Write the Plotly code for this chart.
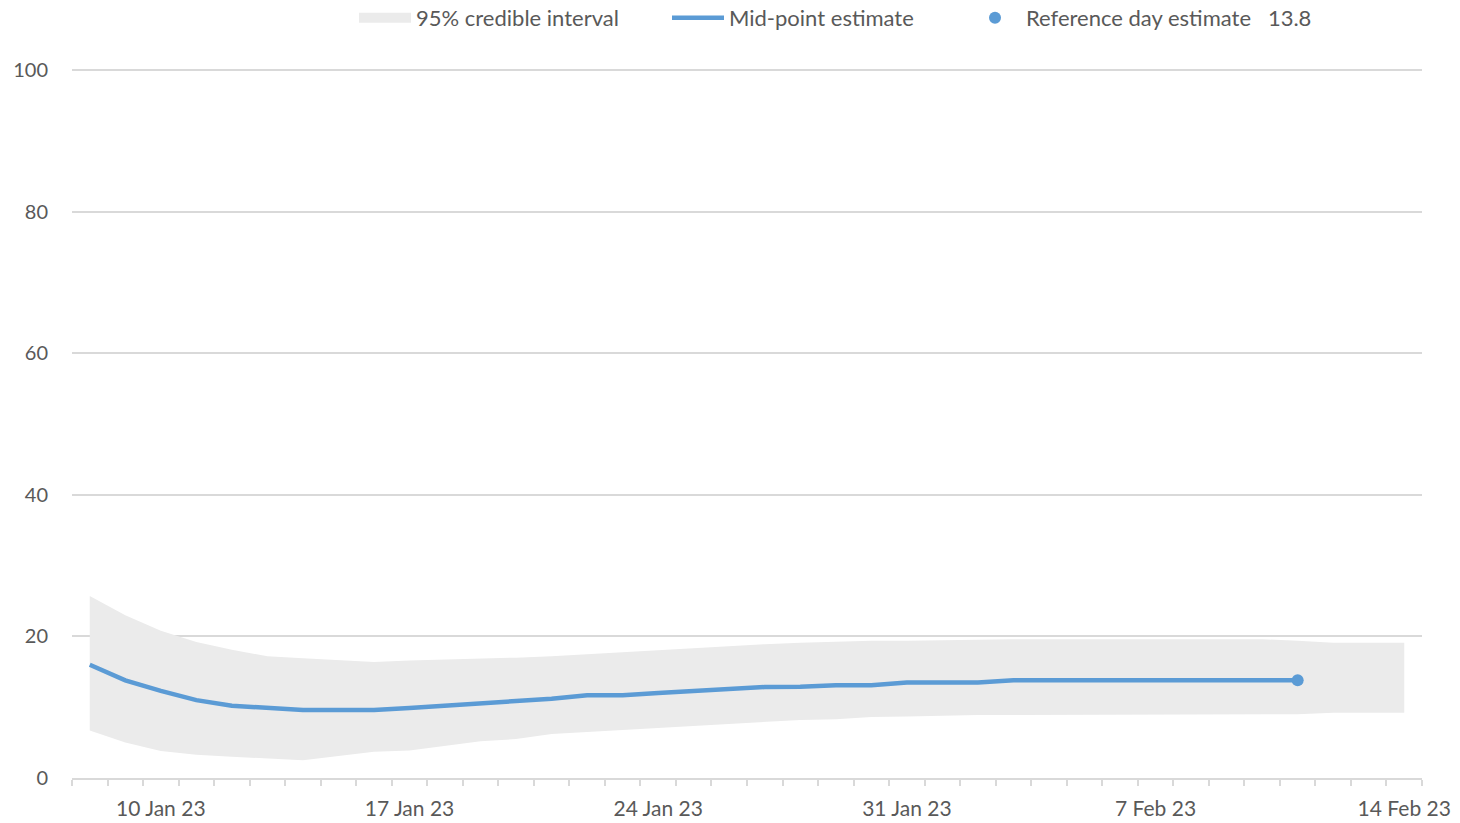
import plotly.graph_objects as go
import pandas as pd

dates = pd.date_range("2023-01-08", "2023-02-14", freq="D")
upper = [25.7, 23.0, 20.8, 19.2, 18.1, 17.2, 16.9, 16.7, 16.4, 16.6,
         16.7, 16.8, 17.0, 17.2, 17.5, 17.8, 18.0, 18.3, 18.6, 18.9,
         19.1, 19.3, 19.4, 19.4, 19.5, 19.6, 19.6, 19.6, 19.6, 19.6,
         19.6, 19.6, 19.6, 19.6, 19.4, 19.1, 19.1, 19.1]
lower = [6.7, 5.0, 3.8, 3.3, 3.0, 2.7, 2.5, 3.1, 3.7, 3.9,
         4.6, 5.2, 5.5, 6.2, 6.5, 6.8, 7.1, 7.4, 7.6, 7.9,
         8.2, 8.3, 8.6, 8.7, 8.85, 8.9, 8.9, 8.9, 8.9, 8.9,
         8.9, 8.9, 8.9, 8.9, 9.0, 9.2, 9.2, 9.2]
mid = [16.0, 13.8, 12.3, 11.0, 10.2, 9.9, 9.6, 9.6, 9.6, 9.9,
       10.2, 10.5, 10.9, 11.2, 11.7, 11.7, 12.0, 12.3, 12.6, 12.85,
       12.9, 13.1, 13.1, 13.5, 13.5, 13.5, 13.8, 13.8, 13.8, 13.8,
       13.8, 13.8, 13.8, 13.8, 13.8]
ref_date = "2023-02-11"
ref_value = 13.8
tick_dates = ["2023-01-10", "2023-01-17", "2023-01-24", "2023-01-31", "2023-02-07", "2023-02-14"]
tick_labels = ["10 Jan 23", "17 Jan 23", "24 Jan 23", "31 Jan 23", "7 Feb 23", "14 Feb 23"]
y_ticks = [0, 20, 40, 60, 80, 100]

BAND = "#ebebeb"
BLUE = "#5b9bd5"
GRID = "#d9d9d9"
TEXT = "#595959"
FONT = "Lato"
W, H = 1460, 823

fig = go.Figure()
fig.add_trace(go.Scatter(x=dates, y=lower, mode="lines", line=dict(width=0, color=BAND),
                         showlegend=False, hoverinfo="skip"))
fig.add_trace(go.Scatter(x=dates, y=upper, mode="lines", line=dict(width=0, color=BAND),
                         fill="tonexty", fillcolor=BAND, showlegend=False))
# legend-only entry for the band (wide grey swatch)
fig.add_trace(go.Scatter(x=[None], y=[None], mode="lines", line=dict(width=13, color=BAND),
                         name="95% credible interval", legend="legend"))
fig.add_trace(go.Scatter(x=dates[:len(mid)], y=mid, mode="lines",
                         line=dict(color=BLUE, width=4.5), name="Mid-point estimate",
                         legend="legend2"))
fig.add_trace(go.Scatter(x=[ref_date], y=[ref_value], mode="markers",
                         marker=dict(color=BLUE, size=12),
                         name="Reference day estimate   " + str(ref_value),
                         legend="legend3"))

def leg(xpix):
    return dict(orientation="h", xref="container", yref="container",
                x=xpix / W, y=1 - 18 / H, xanchor="left", yanchor="middle",
                font=dict(size=22, color=TEXT, family=FONT), itemwidth=52,
                bgcolor="rgba(0,0,0,0)")

fig.update_layout(
    width=W, height=H,
    margin=dict(l=72, r=38, t=69, b=45, autoexpand=False),
    paper_bgcolor="white", plot_bgcolor="white",
    font=dict(family=FONT, size=21, color=TEXT),
    legend=leg(354), legend2=leg(667), legend3=leg(964),
    xaxis=dict(type="date", range=["2023-01-07 12:00", "2023-02-14 12:00"],
               tickvals=tick_dates, ticktext=tick_labels, ticks="", showgrid=False,
               showline=True, linecolor=GRID, linewidth=1.5, zeroline=False,
               ticklabelstandoff=11,
               minor=dict(ticks="outside", ticklen=6, tickcolor=GRID, tickwidth=1.5,
                          dtick=86400000, tick0="2023-01-07 12:00", showgrid=False)),
    yaxis=dict(range=[0, 100.15], tickvals=y_ticks, showgrid=True,
               gridcolor=GRID, gridwidth=1.5, zeroline=False, showline=False,
               ticks="", ticklabelstandoff=23, tickfont=dict(size=20)),
)
fig.write_html("out.html", config={"displayModeBar": False},
               post_script="document.body.style.margin='0';document.body.style.overflow='hidden';")
